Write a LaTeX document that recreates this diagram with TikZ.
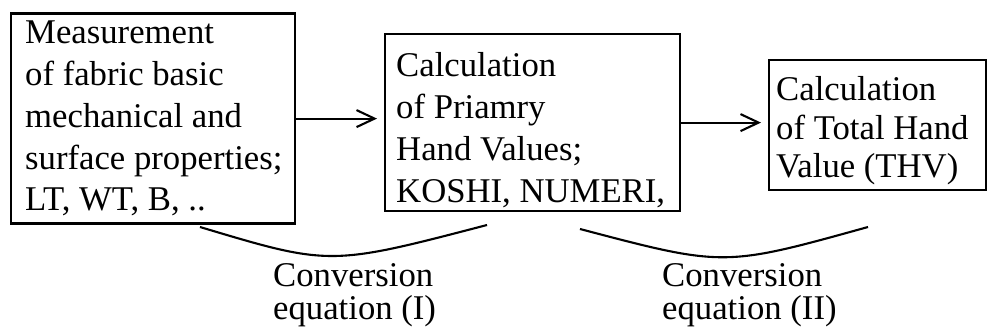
\documentclass[tikz,border=0pt]{standalone}
\usepackage{fontspec}
\setmainfont{Liberation Serif}
\usetikzlibrary{arrows.meta,calc}
\begin{document}
\begin{tikzpicture}[x=1pt,y=-1pt,
  stage/.style={draw,line width=2.2pt,inner sep=0pt,anchor=north west},
  body/.style={anchor=north west,inner sep=0pt,align=left,
    font=\fontsize{34.7}{#1}\selectfont},
  flow/.style={line width=2.1pt,
    -{Straight Barb[length=18pt,width=17pt,line width=2.1pt]},shorten >=7pt},
  bracecurve/.style={line width=2.1pt}]
\useasboundingbox (0,0) rectangle (987,336);

% process boxes
\node[stage,minimum width=284pt,minimum height=210pt] (meas)  at (9.5,12.5) {};
\node[stage,minimum width=295pt,minimum height=177pt] (prim)  at (384,33) {};
\node[stage,minimum width=217pt,minimum height=130pt] (total) at (768,59) {};

% box texts
\node[body=41.75] (measText) at (25,21)
  {Measurement\\of fabric basic\\mechanical and\\surface properties;\\LT, WT, B, ..};
\node[body=42] (primText) at (396,52.3)
  {Calculation\\of Priamry\\Hand Values;\\KOSHI, NUMERI,};
\node[body=38.5] (totalText) at (776,76.3)
  {Calculation\\of Total Hand\\Value (THV)};

% flow arrows
\draw[flow] (meas.east) -- (meas.east -| prim.west);
\draw[flow] (prim.east) -- (prim.east -| total.west);

% curved braces under the steps
\coordinate (convOneA) at (200,227);
\coordinate (convOneB) at (487,225);
\coordinate (convTwoA) at (580,229);
\coordinate (convTwoB) at (868,227);
\draw[bracecurve] (convOneA) .. controls (330,266) .. (convOneB);
\draw[bracecurve] (convTwoA) .. controls (724,267) .. (convTwoB);

% equation labels
\node[body=33] (convOne) at (273,263.3) {Conversion\\equation (I)};
\node[body=33] (convTwo) at (662,263.3) {Conversion\\equation (II)};
\end{tikzpicture}
\end{document}
